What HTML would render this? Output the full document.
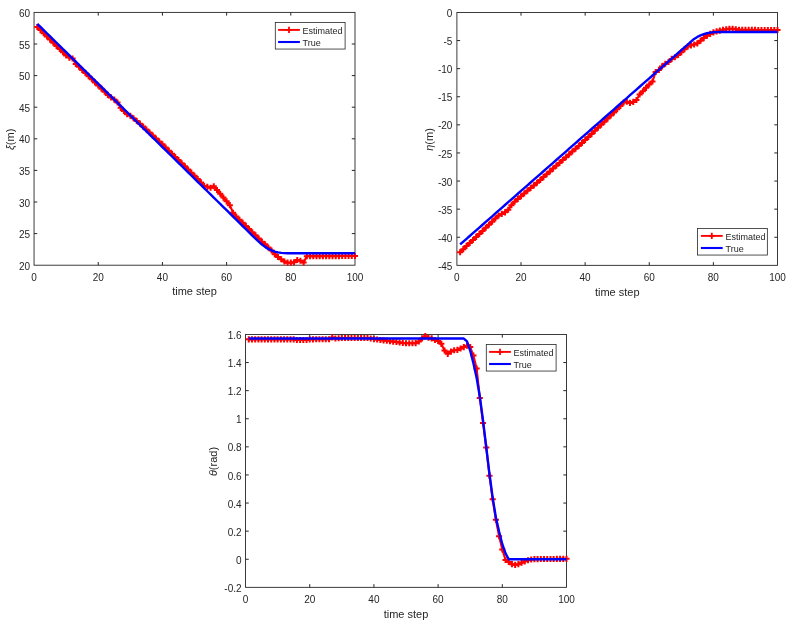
<!DOCTYPE html>
<html><head><meta charset="utf-8"><title>plots</title>
<style>
html,body{margin:0;padding:0;background:#fff}
svg{display:block}
text{font-family:"Liberation Sans",sans-serif;fill:#262626}
.t{font-size:10px}
.l{font-size:11px}
.g{font-size:9px}
</style></head><body>
<svg width="791" height="623" viewBox="0 0 791 623">
<rect width="791" height="623" fill="#fff"/>
<rect x="34.05" y="12.40" width="320.95" height="252.80" fill="none" stroke="#262626" stroke-width="0.9"/>
<path d="M98.24 265.20v-3.2M98.24 12.40v3.2M162.43 265.20v-3.2M162.43 12.40v3.2M226.62 265.20v-3.2M226.62 12.40v3.2M290.81 265.20v-3.2M290.81 12.40v3.2M34.05 233.60h3.2M355.00 233.60h-3.2M34.05 202.00h3.2M355.00 202.00h-3.2M34.05 170.40h3.2M355.00 170.40h-3.2M34.05 138.80h3.2M355.00 138.80h-3.2M34.05 107.20h3.2M355.00 107.20h-3.2M34.05 75.60h3.2M355.00 75.60h-3.2M34.05 44.00h3.2M355.00 44.00h-3.2" stroke="#262626" stroke-width="1" fill="none"/>
<polyline points="37.26,26.94 40.47,30.10 43.68,33.26 46.89,36.42 50.10,39.58 53.31,42.74 56.52,45.90 59.73,49.06 62.94,52.22 66.14,55.38 69.35,57.59 72.56,58.54 75.77,63.91 78.98,66.75 82.19,69.88 85.40,73.00 88.61,76.13 91.82,79.25 95.03,82.38 98.24,85.50 101.45,88.63 104.66,91.75 107.87,94.88 111.08,97.40 114.29,99.62 117.50,102.46 120.71,107.83 123.92,110.99 127.13,114.15 130.33,115.73 133.54,118.26 136.75,120.95 139.96,123.63 143.17,126.59 146.38,129.55 149.59,132.52 152.80,135.48 156.01,138.44 159.22,141.40 162.43,144.36 165.64,147.50 168.85,150.64 172.06,153.78 175.27,156.93 178.48,160.07 181.69,163.21 184.90,166.35 188.11,169.49 191.32,172.63 194.52,175.77 197.73,179.08 200.94,182.39 204.15,185.88 207.36,186.83 210.57,187.78 213.78,186.20 216.99,189.99 220.20,193.78 223.41,197.58 226.62,201.37 229.83,205.16 233.04,212.74 236.25,216.54 239.46,219.70 242.67,222.79 245.88,225.89 249.09,228.99 252.30,232.21 255.51,235.18 258.71,238.53 261.92,241.63 265.13,244.34 268.34,247.50 271.55,250.47 274.76,254.14 277.97,256.98 281.18,259.26 284.39,261.53 287.60,262.67 290.81,262.67 294.02,262.29 297.23,260.02 300.44,260.78 303.65,262.48 306.86,256.16 310.07,256.15 313.28,256.15 316.49,256.14 319.70,256.13 322.91,256.12 326.11,256.11 329.32,256.10 332.53,256.09 335.74,256.09 338.95,256.08 342.16,256.07 345.37,256.06 348.58,256.05 351.79,256.04 355.00,256.04" fill="none" stroke="#f00" stroke-width="2.1" stroke-linejoin="round"/>
<path d="M34.21 26.94h6.1M37.26 23.89v6.1M37.42 30.10h6.1M40.47 27.05v6.1M40.63 33.26h6.1M43.68 30.21v6.1M43.84 36.42h6.1M46.89 33.37v6.1M47.05 39.58h6.1M50.10 36.53v6.1M50.26 42.74h6.1M53.31 39.69v6.1M53.47 45.90h6.1M56.52 42.85v6.1M56.68 49.06h6.1M59.73 46.01v6.1M59.89 52.22h6.1M62.94 49.17v6.1M63.09 55.38h6.1M66.14 52.33v6.1M66.30 57.59h6.1M69.35 54.54v6.1M69.51 58.54h6.1M72.56 55.49v6.1M72.72 63.91h6.1M75.77 60.86v6.1M75.93 66.75h6.1M78.98 63.70v6.1M79.14 69.88h6.1M82.19 66.83v6.1M82.35 73.00h6.1M85.40 69.95v6.1M85.56 76.13h6.1M88.61 73.08v6.1M88.77 79.25h6.1M91.82 76.20v6.1M91.98 82.38h6.1M95.03 79.33v6.1M95.19 85.50h6.1M98.24 82.45v6.1M98.40 88.63h6.1M101.45 85.58v6.1M101.61 91.75h6.1M104.66 88.70v6.1M104.82 94.88h6.1M107.87 91.83v6.1M108.03 97.40h6.1M111.08 94.35v6.1M111.24 99.62h6.1M114.29 96.57v6.1M114.45 102.46h6.1M117.50 99.41v6.1M117.66 107.83h6.1M120.71 104.78v6.1M120.87 110.99h6.1M123.92 107.94v6.1M124.08 114.15h6.1M127.13 111.10v6.1M127.28 115.73h6.1M130.33 112.68v6.1M130.49 118.26h6.1M133.54 115.21v6.1M133.70 120.95h6.1M136.75 117.90v6.1M136.91 123.63h6.1M139.96 120.58v6.1M140.12 126.59h6.1M143.17 123.54v6.1M143.33 129.55h6.1M146.38 126.50v6.1M146.54 132.52h6.1M149.59 129.47v6.1M149.75 135.48h6.1M152.80 132.43v6.1M152.96 138.44h6.1M156.01 135.39v6.1M156.17 141.40h6.1M159.22 138.35v6.1M159.38 144.36h6.1M162.43 141.31v6.1M162.59 147.50h6.1M165.64 144.45v6.1M165.80 150.64h6.1M168.85 147.59v6.1M169.01 153.78h6.1M172.06 150.73v6.1M172.22 156.93h6.1M175.27 153.88v6.1M175.43 160.07h6.1M178.48 157.02v6.1M178.64 163.21h6.1M181.69 160.16v6.1M181.85 166.35h6.1M184.90 163.30v6.1M185.06 169.49h6.1M188.11 166.44v6.1M188.27 172.63h6.1M191.32 169.58v6.1M191.47 175.77h6.1M194.52 172.72v6.1M194.68 179.08h6.1M197.73 176.03v6.1M197.89 182.39h6.1M200.94 179.34v6.1M201.10 185.88h6.1M204.15 182.83v6.1M204.31 186.83h6.1M207.36 183.78v6.1M207.52 187.78h6.1M210.57 184.73v6.1M210.73 186.20h6.1M213.78 183.15v6.1M213.94 189.99h6.1M216.99 186.94v6.1M217.15 193.78h6.1M220.20 190.73v6.1M220.36 197.58h6.1M223.41 194.53v6.1M223.57 201.37h6.1M226.62 198.32v6.1M226.78 205.16h6.1M229.83 202.11v6.1M229.99 212.74h6.1M233.04 209.69v6.1M233.20 216.54h6.1M236.25 213.49v6.1M236.41 219.70h6.1M239.46 216.65v6.1M239.62 222.79h6.1M242.67 219.74v6.1M242.83 225.89h6.1M245.88 222.84v6.1M246.04 228.99h6.1M249.09 225.94v6.1M249.25 232.21h6.1M252.30 229.16v6.1M252.46 235.18h6.1M255.51 232.13v6.1M255.66 238.53h6.1M258.71 235.48v6.1M258.87 241.63h6.1M261.92 238.58v6.1M262.08 244.34h6.1M265.13 241.29v6.1M265.29 247.50h6.1M268.34 244.45v6.1M268.50 250.47h6.1M271.55 247.42v6.1M271.71 254.14h6.1M274.76 251.09v6.1M274.92 256.98h6.1M277.97 253.93v6.1M278.13 259.26h6.1M281.18 256.21v6.1M281.34 261.53h6.1M284.39 258.48v6.1M284.55 262.67h6.1M287.60 259.62v6.1M287.76 262.67h6.1M290.81 259.62v6.1M290.97 262.29h6.1M294.02 259.24v6.1M294.18 260.02h6.1M297.23 256.97v6.1M297.39 260.78h6.1M300.44 257.73v6.1M300.60 262.48h6.1M303.65 259.43v6.1M303.81 256.16h6.1M306.86 253.11v6.1M307.02 256.15h6.1M310.07 253.10v6.1M310.23 256.15h6.1M313.28 253.10v6.1M313.44 256.14h6.1M316.49 253.09v6.1M316.65 256.13h6.1M319.70 253.08v6.1M319.86 256.12h6.1M322.91 253.07v6.1M323.06 256.11h6.1M326.11 253.06v6.1M326.27 256.10h6.1M329.32 253.05v6.1M329.48 256.09h6.1M332.53 253.04v6.1M332.69 256.09h6.1M335.74 253.04v6.1M335.90 256.08h6.1M338.95 253.03v6.1M339.11 256.07h6.1M342.16 253.02v6.1M342.32 256.06h6.1M345.37 253.01v6.1M345.53 256.05h6.1M348.58 253.00v6.1M348.74 256.04h6.1M351.79 252.99v6.1M351.95 256.04h6.1M355.00 252.99v6.1" stroke="#f00" stroke-width="2" fill="none"/>
<polyline points="37.26,23.78 40.47,26.94 43.68,30.10 46.89,33.26 50.10,36.42 53.31,39.58 56.52,42.74 59.73,45.90 62.94,49.06 66.14,52.22 69.35,55.38 72.56,58.54 75.77,61.70 78.98,64.86 82.19,68.02 85.40,71.18 88.61,74.34 91.82,77.50 95.03,80.66 98.24,83.82 101.45,86.98 104.66,90.14 107.87,93.30 111.08,96.46 114.29,99.62 117.50,102.78 120.71,105.94 123.92,109.10 127.13,112.26 130.33,115.42 133.54,118.58 136.75,121.74 139.96,124.90 143.17,128.06 146.38,131.22 149.59,134.38 152.80,137.54 156.01,140.70 159.22,143.86 162.43,147.02 165.64,150.18 168.85,153.34 172.06,156.50 175.27,159.66 178.48,162.82 181.69,165.98 184.90,169.14 188.11,172.30 191.32,175.46 194.52,178.62 197.73,181.78 200.94,184.94 204.15,188.10 207.36,191.26 210.57,194.42 213.78,197.58 216.99,200.74 220.20,203.90 223.41,207.06 226.62,210.22 229.83,213.38 233.04,216.54 236.25,219.70 239.46,222.86 242.67,226.02 245.88,229.18 249.09,232.34 252.30,235.62 255.51,238.66 258.71,241.69 261.92,244.47 265.13,246.87 268.34,248.89 271.55,250.41 274.76,251.61 277.97,252.43 281.18,252.88 284.39,253.13 287.60,253.19 290.81,253.19 294.02,253.19 297.23,253.19 300.44,253.19 303.65,253.19 306.86,253.19 310.07,253.19 313.28,253.19 316.49,253.19 319.70,253.19 322.91,253.19 326.11,253.19 329.32,253.19 332.53,253.19 335.74,253.19 338.95,253.19 342.16,253.19 345.37,253.19 348.58,253.19 351.79,253.19 355.00,253.19" fill="none" stroke="#00f" stroke-width="2.4" stroke-linejoin="round"/>
<text x="34.05" y="280.50" text-anchor="middle" class="t">0</text>
<text x="98.24" y="280.50" text-anchor="middle" class="t">20</text>
<text x="162.43" y="280.50" text-anchor="middle" class="t">40</text>
<text x="226.62" y="280.50" text-anchor="middle" class="t">60</text>
<text x="290.81" y="280.50" text-anchor="middle" class="t">80</text>
<text x="355.00" y="280.50" text-anchor="middle" class="t">100</text>
<text x="30.05" y="269.80" text-anchor="end" class="t">20</text>
<text x="30.05" y="238.20" text-anchor="end" class="t">25</text>
<text x="30.05" y="206.60" text-anchor="end" class="t">30</text>
<text x="30.05" y="175.00" text-anchor="end" class="t">35</text>
<text x="30.05" y="143.40" text-anchor="end" class="t">40</text>
<text x="30.05" y="111.80" text-anchor="end" class="t">45</text>
<text x="30.05" y="80.20" text-anchor="end" class="t">50</text>
<text x="30.05" y="48.60" text-anchor="end" class="t">55</text>
<text x="30.05" y="17.00" text-anchor="end" class="t">60</text>
<text x="194.53" y="295.40" text-anchor="middle" class="l">time step</text>
<text transform="translate(13.80 139.40) rotate(-90)" text-anchor="middle" class="l"><tspan font-style="italic">ξ</tspan>(m)</text>
<rect x="275.30" y="22.55" width="69.8" height="26.5" fill="#fff" stroke="#262626" stroke-width="0.8"/>
<path d="M278.10 29.90h21.8" stroke="#f00" stroke-width="1.9"/>
<path d="M285.90 29.90h6.2M289.00 26.80v6.2" stroke="#f00" stroke-width="1.8"/>
<path d="M278.10 42.00h21.8" stroke="#00f" stroke-width="2.1"/>
<text x="302.60" y="33.65" class="g">Estimated</text>
<text x="302.60" y="45.55" class="g">True</text>
<rect x="456.90" y="12.45" width="320.60" height="252.90" fill="none" stroke="#262626" stroke-width="0.9"/>
<path d="M521.02 265.35v-3.2M521.02 12.45v3.2M585.14 265.35v-3.2M585.14 12.45v3.2M649.26 265.35v-3.2M649.26 12.45v3.2M713.38 265.35v-3.2M713.38 12.45v3.2M456.90 237.25h3.2M777.50 237.25h-3.2M456.90 209.15h3.2M777.50 209.15h-3.2M456.90 181.05h3.2M777.50 181.05h-3.2M456.90 152.95h3.2M777.50 152.95h-3.2M456.90 124.85h3.2M777.50 124.85h-3.2M456.90 96.75h3.2M777.50 96.75h-3.2M456.90 68.65h3.2M777.50 68.65h-3.2M456.90 40.55h3.2M777.50 40.55h-3.2" stroke="#262626" stroke-width="1" fill="none"/>
<polyline points="460.11,252.31 463.31,249.16 466.52,246.01 469.72,242.97 472.93,239.93 476.14,236.92 479.34,233.92 482.55,230.92 485.75,227.82 488.96,224.72 492.17,221.63 495.37,218.53 498.58,215.43 501.78,213.91 504.99,212.33 508.20,209.80 511.40,205.18 514.61,201.75 517.81,198.97 521.02,196.20 524.23,193.43 527.43,190.65 530.64,188.03 533.84,185.40 537.05,182.77 540.26,179.93 543.46,177.10 546.67,174.26 549.87,171.42 553.08,168.58 556.29,165.75 559.49,162.91 562.70,160.07 565.90,157.23 569.11,154.40 572.32,151.56 575.52,148.72 578.73,145.89 581.93,142.93 585.14,139.97 588.35,136.93 591.55,133.89 594.76,130.85 597.96,127.81 601.17,124.77 604.38,121.67 607.58,118.58 610.79,115.48 613.99,112.38 617.20,109.29 620.41,106.02 623.61,102.54 626.82,101.70 630.02,102.88 633.23,101.92 636.44,100.01 639.64,94.50 642.85,91.30 646.05,87.87 649.26,84.50 652.47,81.46 655.67,72.02 658.88,69.88 662.08,66.39 665.29,63.68 668.50,61.99 671.70,58.89 674.91,57.20 678.11,54.95 681.32,52.13 684.53,49.32 687.73,46.50 690.94,45.37 694.14,44.48 697.35,43.36 700.56,40.72 703.76,38.08 706.97,35.77 710.17,33.92 713.38,32.40 716.59,31.39 719.79,30.60 723.00,29.87 726.20,29.31 729.41,28.86 732.62,28.86 735.82,29.31 739.03,29.87 742.23,29.88 745.44,29.89 748.65,29.90 751.85,29.91 755.06,29.92 758.26,29.93 761.47,29.94 764.68,29.95 767.88,29.96 771.09,29.97 774.29,29.98 777.50,29.98" fill="none" stroke="#f00" stroke-width="2.1" stroke-linejoin="round"/>
<path d="M457.06 252.31h6.1M460.11 249.26v6.1M460.26 249.16h6.1M463.31 246.11v6.1M463.47 246.01h6.1M466.52 242.96v6.1M466.67 242.97h6.1M469.72 239.92v6.1M469.88 239.93h6.1M472.93 236.88v6.1M473.09 236.92h6.1M476.14 233.87v6.1M476.29 233.92h6.1M479.34 230.87v6.1M479.50 230.92h6.1M482.55 227.87v6.1M482.70 227.82h6.1M485.75 224.77v6.1M485.91 224.72h6.1M488.96 221.67v6.1M489.12 221.63h6.1M492.17 218.58v6.1M492.32 218.53h6.1M495.37 215.48v6.1M495.53 215.43h6.1M498.58 212.38v6.1M498.73 213.91h6.1M501.78 210.86v6.1M501.94 212.33h6.1M504.99 209.28v6.1M505.15 209.80h6.1M508.20 206.75v6.1M508.35 205.18h6.1M511.40 202.13v6.1M511.56 201.75h6.1M514.61 198.70v6.1M514.76 198.97h6.1M517.81 195.92v6.1M517.97 196.20h6.1M521.02 193.15v6.1M521.18 193.43h6.1M524.23 190.38v6.1M524.38 190.65h6.1M527.43 187.60v6.1M527.59 188.03h6.1M530.64 184.98v6.1M530.79 185.40h6.1M533.84 182.35v6.1M534.00 182.77h6.1M537.05 179.72v6.1M537.21 179.93h6.1M540.26 176.88v6.1M540.41 177.10h6.1M543.46 174.05v6.1M543.62 174.26h6.1M546.67 171.21v6.1M546.82 171.42h6.1M549.87 168.37v6.1M550.03 168.58h6.1M553.08 165.53v6.1M553.24 165.75h6.1M556.29 162.70v6.1M556.44 162.91h6.1M559.49 159.86v6.1M559.65 160.07h6.1M562.70 157.02v6.1M562.85 157.23h6.1M565.90 154.18v6.1M566.06 154.40h6.1M569.11 151.35v6.1M569.27 151.56h6.1M572.32 148.51v6.1M572.47 148.72h6.1M575.52 145.67v6.1M575.68 145.89h6.1M578.73 142.84v6.1M578.88 142.93h6.1M581.93 139.88v6.1M582.09 139.97h6.1M585.14 136.92v6.1M585.30 136.93h6.1M588.35 133.88v6.1M588.50 133.89h6.1M591.55 130.84v6.1M591.71 130.85h6.1M594.76 127.80v6.1M594.91 127.81h6.1M597.96 124.76v6.1M598.12 124.77h6.1M601.17 121.72v6.1M601.33 121.67h6.1M604.38 118.62v6.1M604.53 118.58h6.1M607.58 115.53v6.1M607.74 115.48h6.1M610.79 112.43v6.1M610.94 112.38h6.1M613.99 109.33v6.1M614.15 109.29h6.1M617.20 106.24v6.1M617.36 106.02h6.1M620.41 102.97v6.1M620.56 102.54h6.1M623.61 99.49v6.1M623.77 101.70h6.1M626.82 98.65v6.1M626.97 102.88h6.1M630.02 99.83v6.1M630.18 101.92h6.1M633.23 98.87v6.1M633.39 100.01h6.1M636.44 96.96v6.1M636.59 94.50h6.1M639.64 91.45v6.1M639.80 91.30h6.1M642.85 88.25v6.1M643.00 87.87h6.1M646.05 84.82v6.1M646.21 84.50h6.1M649.26 81.45v6.1M649.42 81.46h6.1M652.47 78.41v6.1M652.62 72.02h6.1M655.67 68.97v6.1M655.83 69.88h6.1M658.88 66.83v6.1M659.03 66.39h6.1M662.08 63.34v6.1M662.24 63.68h6.1M665.29 60.63v6.1M665.45 61.99h6.1M668.50 58.94v6.1M668.65 58.89h6.1M671.70 55.84v6.1M671.86 57.20h6.1M674.91 54.15v6.1M675.06 54.95h6.1M678.11 51.90v6.1M678.27 52.13h6.1M681.32 49.08v6.1M681.48 49.32h6.1M684.53 46.27v6.1M684.68 46.50h6.1M687.73 43.45v6.1M687.89 45.37h6.1M690.94 42.32v6.1M691.09 44.48h6.1M694.14 41.43v6.1M694.30 43.36h6.1M697.35 40.31v6.1M697.51 40.72h6.1M700.56 37.67v6.1M700.71 38.08h6.1M703.76 35.03v6.1M703.92 35.77h6.1M706.97 32.72v6.1M707.12 33.92h6.1M710.17 30.87v6.1M710.33 32.40h6.1M713.38 29.35v6.1M713.54 31.39h6.1M716.59 28.34v6.1M716.74 30.60h6.1M719.79 27.55v6.1M719.95 29.87h6.1M723.00 26.82v6.1M723.15 29.31h6.1M726.20 26.26v6.1M726.36 28.86h6.1M729.41 25.81v6.1M729.57 28.86h6.1M732.62 25.81v6.1M732.77 29.31h6.1M735.82 26.26v6.1M735.98 29.87h6.1M739.03 26.82v6.1M739.18 29.88h6.1M742.23 26.83v6.1M742.39 29.89h6.1M745.44 26.84v6.1M745.60 29.90h6.1M748.65 26.85v6.1M748.80 29.91h6.1M751.85 26.86v6.1M752.01 29.92h6.1M755.06 26.87v6.1M755.21 29.93h6.1M758.26 26.88v6.1M758.42 29.94h6.1M761.47 26.89v6.1M761.63 29.95h6.1M764.68 26.90v6.1M764.83 29.96h6.1M767.88 26.91v6.1M768.04 29.97h6.1M771.09 26.92v6.1M771.24 29.98h6.1M774.29 26.93v6.1M774.45 29.98h6.1M777.50 26.93v6.1" stroke="#f00" stroke-width="2" fill="none"/>
<polyline points="460.11,244.44 463.31,241.63 466.52,238.81 469.72,236.00 472.93,233.18 476.14,230.37 479.34,227.55 482.55,224.73 485.75,221.92 488.96,219.10 492.17,216.29 495.37,213.47 498.58,210.66 501.78,207.84 504.99,205.02 508.20,202.21 511.40,199.39 514.61,196.58 517.81,193.76 521.02,190.95 524.23,188.13 527.43,185.32 530.64,182.50 533.84,179.68 537.05,176.87 540.26,174.05 543.46,171.24 546.67,168.42 549.87,165.61 553.08,162.79 556.29,159.98 559.49,157.16 562.70,154.34 565.90,151.53 569.11,148.71 572.32,145.90 575.52,143.08 578.73,140.27 581.93,137.45 585.14,134.63 588.35,131.82 591.55,129.00 594.76,126.19 597.96,123.37 601.17,120.56 604.38,117.74 607.58,114.93 610.79,112.11 613.99,109.29 617.20,106.48 620.41,103.66 623.61,100.85 626.82,98.03 630.02,95.22 633.23,92.40 636.44,89.58 639.64,86.77 642.85,83.95 646.05,81.14 649.26,78.32 652.47,75.51 655.67,72.69 658.88,69.88 662.08,67.06 665.29,64.24 668.50,61.43 671.70,58.61 674.91,55.80 678.11,52.98 681.32,50.17 684.53,47.35 687.73,44.53 690.94,41.72 694.14,38.90 697.35,36.90 700.56,35.44 703.76,34.20 706.97,33.24 710.17,32.68 713.38,32.29 716.59,32.12 719.79,32.01 723.00,32.01 726.20,32.01 729.41,32.01 732.62,32.01 735.82,32.01 739.03,32.01 742.23,32.01 745.44,32.01 748.65,32.01 751.85,32.01 755.06,32.01 758.26,32.01 761.47,32.01 764.68,32.01 767.88,32.01 771.09,32.01 774.29,32.01 777.50,32.01" fill="none" stroke="#00f" stroke-width="2.4" stroke-linejoin="round"/>
<text x="456.90" y="280.65" text-anchor="middle" class="t">0</text>
<text x="521.02" y="280.65" text-anchor="middle" class="t">20</text>
<text x="585.14" y="280.65" text-anchor="middle" class="t">40</text>
<text x="649.26" y="280.65" text-anchor="middle" class="t">60</text>
<text x="713.38" y="280.65" text-anchor="middle" class="t">80</text>
<text x="777.50" y="280.65" text-anchor="middle" class="t">100</text>
<text x="452.40" y="269.95" text-anchor="end" class="t">-45</text>
<text x="452.40" y="241.85" text-anchor="end" class="t">-40</text>
<text x="452.40" y="213.75" text-anchor="end" class="t">-35</text>
<text x="452.40" y="185.65" text-anchor="end" class="t">-30</text>
<text x="452.40" y="157.55" text-anchor="end" class="t">-25</text>
<text x="452.40" y="129.45" text-anchor="end" class="t">-20</text>
<text x="452.40" y="101.35" text-anchor="end" class="t">-15</text>
<text x="452.40" y="73.25" text-anchor="end" class="t">-10</text>
<text x="452.40" y="45.15" text-anchor="end" class="t">-5</text>
<text x="452.40" y="17.05" text-anchor="end" class="t">0</text>
<text x="617.20" y="295.55" text-anchor="middle" class="l">time step</text>
<text transform="translate(432.50 139.50) rotate(-90)" text-anchor="middle" class="l"><tspan font-style="italic">η</tspan>(m)</text>
<rect x="697.55" y="228.55" width="69.8" height="26.5" fill="#fff" stroke="#262626" stroke-width="0.8"/>
<path d="M700.90 235.90h21.8" stroke="#f00" stroke-width="1.9"/>
<path d="M708.70 235.90h6.2M711.80 232.80v6.2" stroke="#f00" stroke-width="1.8"/>
<path d="M700.90 248.00h21.8" stroke="#00f" stroke-width="2.1"/>
<text x="725.60" y="239.65" class="g">Estimated</text>
<text x="725.60" y="251.55" class="g">True</text>
<rect x="245.55" y="334.45" width="320.95" height="252.90" fill="none" stroke="#262626" stroke-width="0.9"/>
<path d="M309.74 587.35v-3.2M309.74 334.45v3.2M373.93 587.35v-3.2M373.93 334.45v3.2M438.12 587.35v-3.2M438.12 334.45v3.2M502.31 587.35v-3.2M502.31 334.45v3.2M245.55 559.25h3.2M566.50 559.25h-3.2M245.55 531.15h3.2M566.50 531.15h-3.2M245.55 503.05h3.2M566.50 503.05h-3.2M245.55 474.95h3.2M566.50 474.95h-3.2M245.55 446.85h3.2M566.50 446.85h-3.2M245.55 418.75h3.2M566.50 418.75h-3.2M245.55 390.65h3.2M566.50 390.65h-3.2M245.55 362.55h3.2M566.50 362.55h-3.2" stroke="#262626" stroke-width="1" fill="none"/>
<polyline points="248.76,339.37 251.97,339.37 255.18,339.37 258.39,339.37 261.60,339.37 264.81,339.37 268.02,339.37 271.23,339.37 274.44,339.37 277.64,339.37 280.85,339.37 284.06,339.37 287.27,339.37 290.48,339.37 293.69,339.37 296.90,340.07 300.11,340.07 303.32,340.07 306.53,340.07 309.74,339.37 312.95,339.34 316.16,339.32 319.37,339.30 322.58,339.27 325.79,339.25 329.00,339.23 332.21,337.54 335.42,338.52 338.63,338.24 341.84,337.96 345.04,337.96 348.25,337.96 351.46,337.96 354.67,337.96 357.88,337.96 361.09,337.96 364.30,337.96 367.51,337.96 370.72,338.52 373.93,339.09 377.14,339.51 380.35,339.93 383.56,340.35 386.77,340.77 389.98,341.19 393.19,341.62 396.40,342.04 399.61,342.46 402.82,342.88 406.02,343.30 409.23,343.25 412.44,343.21 415.65,343.16 418.86,341.48 422.07,338.38 425.28,336.14 428.49,337.68 431.70,338.38 434.91,340.07 438.12,341.05 441.33,343.86 444.54,350.47 447.75,353.84 450.96,351.59 454.17,350.19 457.38,349.91 460.59,348.50 463.80,347.10 467.01,345.69 470.22,347.10 473.42,355.53 476.63,368.59 479.84,397.96 483.05,422.97 486.26,447.55 489.47,475.65 492.68,499.26 495.89,519.77 499.10,536.21 502.31,549.41 505.52,559.95 508.73,562.06 511.94,564.17 515.15,564.87 518.36,564.17 521.57,562.76 524.78,561.36 527.99,560.23 531.20,559.53 534.40,559.11 537.61,559.08 540.82,559.05 544.03,559.03 547.24,559.00 550.45,558.97 553.66,558.94 556.87,558.91 560.08,558.88 563.29,558.86 566.50,558.83" fill="none" stroke="#f00" stroke-width="2.1" stroke-linejoin="round"/>
<path d="M245.71 339.37h6.1M248.76 336.32v6.1M248.92 339.37h6.1M251.97 336.32v6.1M252.13 339.37h6.1M255.18 336.32v6.1M255.34 339.37h6.1M258.39 336.32v6.1M258.55 339.37h6.1M261.60 336.32v6.1M261.76 339.37h6.1M264.81 336.32v6.1M264.97 339.37h6.1M268.02 336.32v6.1M268.18 339.37h6.1M271.23 336.32v6.1M271.39 339.37h6.1M274.44 336.32v6.1M274.59 339.37h6.1M277.64 336.32v6.1M277.80 339.37h6.1M280.85 336.32v6.1M281.01 339.37h6.1M284.06 336.32v6.1M284.22 339.37h6.1M287.27 336.32v6.1M287.43 339.37h6.1M290.48 336.32v6.1M290.64 339.37h6.1M293.69 336.32v6.1M293.85 340.07h6.1M296.90 337.02v6.1M297.06 340.07h6.1M300.11 337.02v6.1M300.27 340.07h6.1M303.32 337.02v6.1M303.48 340.07h6.1M306.53 337.02v6.1M306.69 339.37h6.1M309.74 336.32v6.1M309.90 339.34h6.1M312.95 336.29v6.1M313.11 339.32h6.1M316.16 336.27v6.1M316.32 339.30h6.1M319.37 336.25v6.1M319.53 339.27h6.1M322.58 336.22v6.1M322.74 339.25h6.1M325.79 336.20v6.1M325.95 339.23h6.1M329.00 336.18v6.1M329.16 337.54h6.1M332.21 334.49v6.1M332.37 338.52h6.1M335.42 335.47v6.1M335.58 338.24h6.1M338.63 335.19v6.1M338.79 337.96h6.1M341.84 334.91v6.1M341.99 337.96h6.1M345.04 334.91v6.1M345.20 337.96h6.1M348.25 334.91v6.1M348.41 337.96h6.1M351.46 334.91v6.1M351.62 337.96h6.1M354.67 334.91v6.1M354.83 337.96h6.1M357.88 334.91v6.1M358.04 337.96h6.1M361.09 334.91v6.1M361.25 337.96h6.1M364.30 334.91v6.1M364.46 337.96h6.1M367.51 334.91v6.1M367.67 338.52h6.1M370.72 335.47v6.1M370.88 339.09h6.1M373.93 336.04v6.1M374.09 339.51h6.1M377.14 336.46v6.1M377.30 339.93h6.1M380.35 336.88v6.1M380.51 340.35h6.1M383.56 337.30v6.1M383.72 340.77h6.1M386.77 337.72v6.1M386.93 341.19h6.1M389.98 338.14v6.1M390.14 341.62h6.1M393.19 338.57v6.1M393.35 342.04h6.1M396.40 338.99v6.1M396.56 342.46h6.1M399.61 339.41v6.1M399.77 342.88h6.1M402.82 339.83v6.1M402.97 343.30h6.1M406.02 340.25v6.1M406.18 343.25h6.1M409.23 340.20v6.1M409.39 343.21h6.1M412.44 340.16v6.1M412.60 343.16h6.1M415.65 340.11v6.1M415.81 341.48h6.1M418.86 338.43v6.1M419.02 338.38h6.1M422.07 335.33v6.1M422.23 336.14h6.1M425.28 333.09v6.1M425.44 337.68h6.1M428.49 334.63v6.1M428.65 338.38h6.1M431.70 335.33v6.1M431.86 340.07h6.1M434.91 337.02v6.1M435.07 341.05h6.1M438.12 338.00v6.1M438.28 343.86h6.1M441.33 340.81v6.1M441.49 350.47h6.1M444.54 347.42v6.1M444.70 353.84h6.1M447.75 350.79v6.1M447.91 351.59h6.1M450.96 348.54v6.1M451.12 350.19h6.1M454.17 347.14v6.1M454.33 349.91h6.1M457.38 346.86v6.1M457.54 348.50h6.1M460.59 345.45v6.1M460.75 347.10h6.1M463.80 344.05v6.1M463.96 345.69h6.1M467.01 342.64v6.1M467.17 347.10h6.1M470.22 344.05v6.1M470.37 355.53h6.1M473.42 352.48v6.1M473.58 368.59h6.1M476.63 365.54v6.1M476.79 397.96h6.1M479.84 394.91v6.1M480.00 422.97h6.1M483.05 419.92v6.1M483.21 447.55h6.1M486.26 444.50v6.1M486.42 475.65h6.1M489.47 472.60v6.1M489.63 499.26h6.1M492.68 496.21v6.1M492.84 519.77h6.1M495.89 516.72v6.1M496.05 536.21h6.1M499.10 533.16v6.1M499.26 549.41h6.1M502.31 546.37v6.1M502.47 559.95h6.1M505.52 556.90v6.1M505.68 562.06h6.1M508.73 559.01v6.1M508.89 564.17h6.1M511.94 561.12v6.1M512.10 564.87h6.1M515.15 561.82v6.1M515.31 564.17h6.1M518.36 561.12v6.1M518.52 562.76h6.1M521.57 559.71v6.1M521.73 561.36h6.1M524.78 558.31v6.1M524.94 560.23h6.1M527.99 557.18v6.1M528.15 559.53h6.1M531.20 556.48v6.1M531.36 559.11h6.1M534.40 556.06v6.1M534.56 559.08h6.1M537.61 556.03v6.1M537.77 559.05h6.1M540.82 556.00v6.1M540.98 559.03h6.1M544.03 555.98v6.1M544.19 559.00h6.1M547.24 555.95v6.1M547.40 558.97h6.1M550.45 555.92v6.1M550.61 558.94h6.1M553.66 555.89v6.1M553.82 558.91h6.1M556.87 555.86v6.1M557.03 558.88h6.1M560.08 555.83v6.1M560.24 558.86h6.1M563.29 555.81v6.1M563.45 558.83h6.1M566.50 555.78v6.1" stroke="#f00" stroke-width="2" fill="none"/>
<polyline points="248.76,338.55 251.97,338.55 255.18,338.55 258.39,338.55 261.60,338.55 264.81,338.55 268.02,338.55 271.23,338.55 274.44,338.55 277.64,338.55 280.85,338.55 284.06,338.55 287.27,338.55 290.48,338.55 293.69,338.55 296.90,338.55 300.11,338.55 303.32,338.55 306.53,338.55 309.74,338.55 312.95,338.55 316.16,338.55 319.37,338.55 322.58,338.55 325.79,338.55 329.00,338.55 332.21,338.55 335.42,338.55 338.63,338.55 341.84,338.55 345.04,338.55 348.25,338.55 351.46,338.55 354.67,338.55 357.88,338.55 361.09,338.55 364.30,338.55 367.51,338.55 370.72,338.55 373.93,338.55 377.14,338.55 380.35,338.55 383.56,338.55 386.77,338.55 389.98,338.55 393.19,338.55 396.40,338.55 399.61,338.55 402.82,338.55 406.02,338.55 409.23,338.55 412.44,338.55 415.65,338.55 418.86,338.55 422.07,338.55 425.28,338.55 428.49,338.55 431.70,338.55 434.91,338.55 438.12,338.55 441.33,338.55 444.54,338.55 447.75,338.55 450.96,338.55 454.17,338.55 457.38,338.55 460.59,338.55 463.80,338.55 467.01,341.33 470.22,350.75 473.42,363.25 476.63,377.72 479.84,396.69 483.05,420.58 486.26,447.27 489.47,473.97 492.68,497.85 495.89,517.52 499.10,531.57 502.31,544.22 505.52,553.35 508.73,559.25 511.94,559.25 515.15,559.25 518.36,559.25 521.57,559.25 524.78,559.25 527.99,559.25 531.20,559.25 534.40,559.25 537.61,559.25 540.82,559.25 544.03,559.25 547.24,559.25 550.45,559.25 553.66,559.25 556.87,559.25 560.08,559.25 563.29,559.25 566.50,559.25" fill="none" stroke="#00f" stroke-width="2.4" stroke-linejoin="round"/>
<text x="245.55" y="602.65" text-anchor="middle" class="t">0</text>
<text x="309.74" y="602.65" text-anchor="middle" class="t">20</text>
<text x="373.93" y="602.65" text-anchor="middle" class="t">40</text>
<text x="438.12" y="602.65" text-anchor="middle" class="t">60</text>
<text x="502.31" y="602.65" text-anchor="middle" class="t">80</text>
<text x="566.50" y="602.65" text-anchor="middle" class="t">100</text>
<text x="241.55" y="591.95" text-anchor="end" class="t">-0.2</text>
<text x="241.55" y="563.85" text-anchor="end" class="t">0</text>
<text x="241.55" y="535.75" text-anchor="end" class="t">0.2</text>
<text x="241.55" y="507.65" text-anchor="end" class="t">0.4</text>
<text x="241.55" y="479.55" text-anchor="end" class="t">0.6</text>
<text x="241.55" y="451.45" text-anchor="end" class="t">0.8</text>
<text x="241.55" y="423.35" text-anchor="end" class="t">1</text>
<text x="241.55" y="395.25" text-anchor="end" class="t">1.2</text>
<text x="241.55" y="367.15" text-anchor="end" class="t">1.4</text>
<text x="241.55" y="339.05" text-anchor="end" class="t">1.6</text>
<text x="406.02" y="617.55" text-anchor="middle" class="l">time step</text>
<text transform="translate(217.30 461.50) rotate(-90)" text-anchor="middle" class="l"><tspan font-style="italic">θ</tspan>(rad)</text>
<rect x="486.30" y="344.55" width="69.8" height="26.5" fill="#fff" stroke="#262626" stroke-width="0.8"/>
<path d="M489.10 351.90h21.8" stroke="#f00" stroke-width="1.9"/>
<path d="M496.90 351.90h6.2M500.00 348.80v6.2" stroke="#f00" stroke-width="1.8"/>
<path d="M489.10 364.00h21.8" stroke="#00f" stroke-width="2.1"/>
<text x="513.55" y="355.65" class="g">Estimated</text>
<text x="513.55" y="367.55" class="g">True</text>
</svg>
</body></html>
